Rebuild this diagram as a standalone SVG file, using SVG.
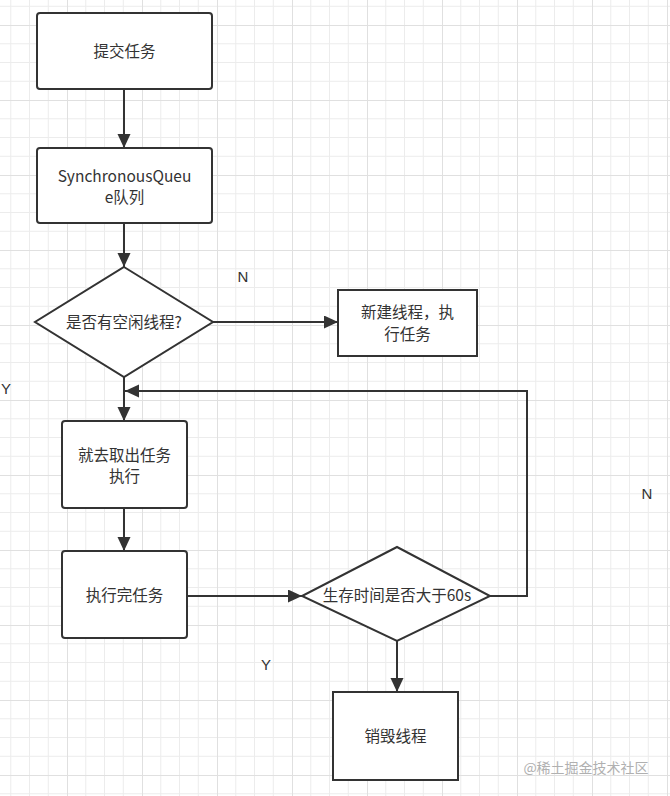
<svg xmlns="http://www.w3.org/2000/svg" width="670" height="796" viewBox="0 0 670 796">
<defs>
<pattern id="grid" x="67" y="25" width="75" height="75" patternUnits="userSpaceOnUse">
<path d="M18.75 0V75M37.5 0V75M56.25 0V75M0 18.75H75M0 37.5H75M0 56.25H75" stroke="#ececec" stroke-width="1" fill="none"/>
<path d="M0.5 0V75M0 0.5H75" stroke="#e0e0e0" stroke-width="1" fill="none"/>
</pattern>
<marker id="ah" markerUnits="userSpaceOnUse" markerWidth="15" markerHeight="14" refX="14" refY="6.5" orient="auto">
<path d="M0,0 L14,6.5 L0,13 z" fill="#333"/>
</marker>
<style>
.box{fill:#fff;stroke:#333;stroke-width:2}
.t{font-family:"Noto Sans CJK SC","Microsoft YaHei",sans-serif;font-size:15.5px;fill:#333;text-anchor:middle}
.l{font-family:"Liberation Sans",Arial,sans-serif;font-size:15px;fill:#333;text-anchor:middle}
.c{fill:none;stroke:#333;stroke-width:2}
</style>
</defs>
<rect width="670" height="796" fill="#fff"/>
<rect width="670" height="796" fill="url(#grid)"/>

<g id="connectors">
<line class="c" x1="124" y1="89" x2="124" y2="148" marker-end="url(#ah)"/>
<line class="c" x1="124" y1="223" x2="124" y2="267" marker-end="url(#ah)"/>
<line class="c" x1="213" y1="322" x2="338" y2="322" marker-end="url(#ah)"/>
<line class="c" x1="124" y1="377" x2="124" y2="421" marker-end="url(#ah)"/>
<line class="c" x1="124" y1="508" x2="124" y2="551" marker-end="url(#ah)"/>
<line class="c" x1="187" y1="596" x2="302" y2="596" marker-end="url(#ah)"/>
<line class="c" x1="397" y1="641" x2="397" y2="692" marker-end="url(#ah)"/>
<polyline class="c" points="490,596 527,596 527,391 125,391" marker-end="url(#ah)"/>
<text class="l" x="243" y="282">N</text>
<text class="l" x="6" y="394">Y</text>
<text class="l" x="647" y="499">N</text>
<text class="l" x="266" y="670">Y</text>
</g>

<g id="n1">
<rect class="box" x="37" y="13" width="175" height="76" rx="3"/>
<text class="t" x="124.5" y="57">提交任务</text>
</g>
<g id="n2">
<rect class="box" x="37" y="148" width="175" height="75" rx="3"/>
<text class="t" x="124.5" y="182">SynchronousQueu</text>
<text class="t" x="124.5" y="203">e队列</text>
</g>
<g id="n3">
<polygon class="box" points="124,267 213,322 124,377 35,322"/>
<text class="t" x="124" y="328">是否有空闲线程?</text>
</g>
<g id="n4">
<rect class="box" x="338" y="290" width="139" height="66"/>
<text class="t" x="407.5" y="318">新建线程，执</text>
<text class="t" x="407.5" y="340">行任务</text>
</g>
<g id="n5">
<rect class="box" x="62" y="421" width="125" height="87" rx="3"/>
<text class="t" x="124.5" y="461">就去取出任务</text>
<text class="t" x="124.5" y="482">执行</text>
</g>
<g id="n6">
<rect class="box" x="62" y="551" width="125" height="87" rx="3"/>
<text class="t" x="124.5" y="601">执行完任务</text>
</g>
<g id="n7">
<polygon class="box" points="397,547 490,596 397,641 302,596"/>
<text class="t" x="397" y="601">生存时间是否大于60s</text>
</g>
<g id="n8">
<rect class="box" x="333" y="692" width="125" height="88"/>
<text class="t" x="395.5" y="742">销毁线程</text>
</g>
<text x="586" y="773" font-family="'Noto Sans CJK SC',sans-serif" font-size="14" fill="#b0b0b0" text-anchor="middle">@稀土掘金技术社区</text>
</svg>
